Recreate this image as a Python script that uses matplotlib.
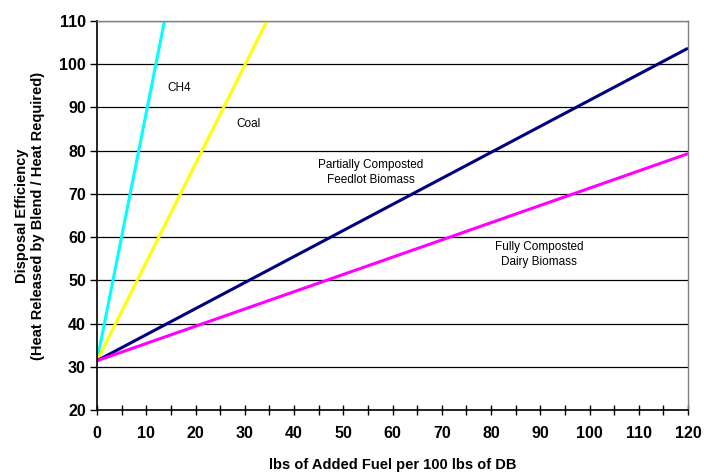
import matplotlib
matplotlib.use("Agg")
import matplotlib.pyplot as plt
from matplotlib.ticker import MultipleLocator

plt.rcParams['font.family'] = ['Liberation Sans', 'DejaVu Sans']

# line end points (all start at the same blend value)
ch4_x = [0, 13.7]
ch4_y = [31.4, 110]
coal_x = [0, 34.5]
coal_y = [31.4, 110]
feedlot_x = [0, 120]
feedlot_y = [31.4, 103.7]
dairy_x = [0, 120]
dairy_y = [31.4, 79.3]

fig = plt.figure(figsize=(7.04, 4.72), dpi=100)
ax = fig.add_axes([97 / 704, 1 - 410 / 472, (688 - 97) / 704, (410 - 21) / 472])

ax.plot(ch4_x, ch4_y, color='#00ffff', lw=2.2, solid_capstyle='butt')
ax.plot(coal_x, coal_y, color='#ffff00', lw=2.2, solid_capstyle='butt')
ax.plot(feedlot_x, feedlot_y, color='#000080', lw=2.2, solid_capstyle='butt')
ax.plot(dairy_x, dairy_y, color='#ff00ff', lw=2.2, solid_capstyle='butt')

ax.text(14.2, 94.5, 'CH4', fontsize=8.5, va='center', ha='left')
ax.text(28.4, 86.2, 'Coal', fontsize=8.5, va='center', ha='left')
ax.text(55.6, 75, 'Partially Composted\nFeedlot Biomass', fontsize=8.5,
        va='center', ha='center', linespacing=1.3)
ax.text(89.7, 56, 'Fully Composted\nDairy Biomass', fontsize=8.5,
        va='center', ha='center', linespacing=1.3)

ax.set_xlim(0, 120)
ax.set_ylim(20, 110)
ax.xaxis.set_major_locator(MultipleLocator(10))
ax.xaxis.set_minor_locator(MultipleLocator(5))
ax.yaxis.set_major_locator(MultipleLocator(10))
ax.grid(axis='y', color='black', lw=0.9)
ax.set_axisbelow(True)

ax.tick_params(axis='x', which='both', direction='inout', length=7, width=1, pad=8)
ax.tick_params(axis='y', direction='out', length=5, width=1, pad=3)
for lab in ax.get_xticklabels() + ax.get_yticklabels():
    lab.set_fontweight('bold')
    lab.set_fontsize(11.5)

for s in ['left', 'bottom']:
    ax.spines[s].set_color('black')
    ax.spines[s].set_linewidth(1.2)
for s in ['top', 'right']:
    ax.spines[s].set_color('#808080')
    ax.spines[s].set_linewidth(1)

ax.set_xlabel('lbs of Added Fuel per 100 lbs of DB', fontsize=10.5,
              fontweight='bold', labelpad=12)
ax.set_ylabel('Disposal Efficiency\n(Heat Released by Blend / Heat Required)',
              fontsize=10.5, fontweight='bold', labelpad=10)

plt.savefig('out.png', dpi=100)
